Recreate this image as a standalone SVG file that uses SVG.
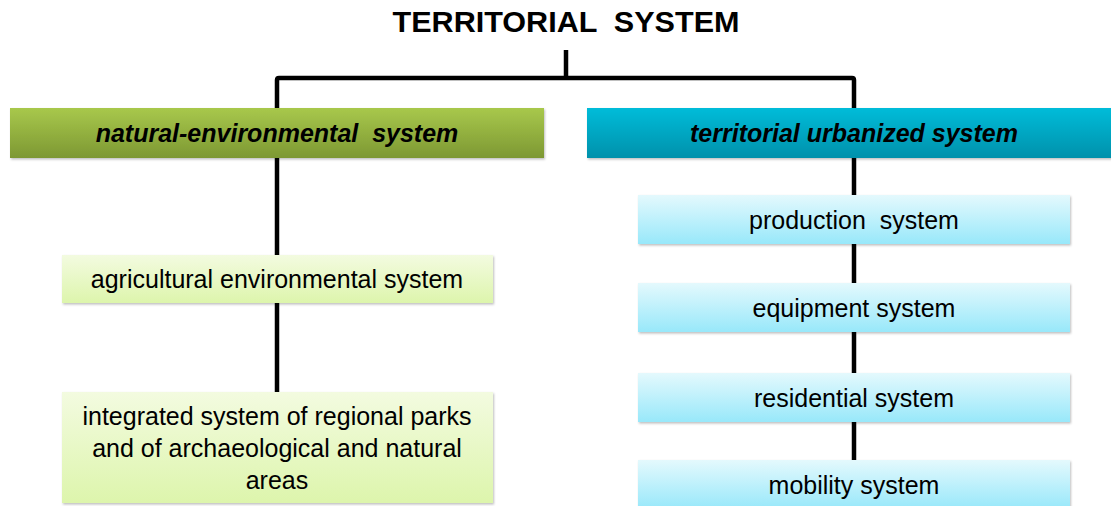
<svg xmlns="http://www.w3.org/2000/svg" width="1111" height="506" viewBox="0 0 1111 506">
<defs>
<linearGradient id="gHead" x1="0" y1="0" x2="0" y2="1"><stop offset="0" stop-color="#a8c84c"/><stop offset="1" stop-color="#7d9833"/></linearGradient>
<linearGradient id="bHead" x1="0" y1="0" x2="0" y2="1"><stop offset="0" stop-color="#00bcd9"/><stop offset="1" stop-color="#0091ab"/></linearGradient>
<linearGradient id="gLight" x1="0" y1="0" x2="0" y2="1"><stop offset="0" stop-color="#f3fbe0"/><stop offset="1" stop-color="#ddf5ac"/></linearGradient>
<linearGradient id="bLight" x1="0" y1="0" x2="0" y2="1"><stop offset="0" stop-color="#e4f9fd"/><stop offset="1" stop-color="#98e8fa"/></linearGradient>
<filter id="sh" x="-5%" y="-20%" width="110%" height="140%"><feDropShadow dx="1" dy="1.5" stdDeviation="1.2" flood-color="#000" flood-opacity="0.25"/></filter>
</defs>
<style>
text{font-family:"Liberation Sans",Arial,sans-serif;fill:#000;text-anchor:middle}
.title{font-size:29px;font-weight:bold}
.head{font-size:25px;font-weight:bold;font-style:italic}
.lbl{font-size:25px}
.conn{fill:none;stroke:#000;stroke-width:4.5;stroke-linejoin:round}
</style>
<g id="connectors">
<path class="conn" d="M566 50 V78"/>
<path class="conn" d="M277 108 V80 Q277 78 279 78 H852 Q854 78 854 80 V108"/>
<path class="conn" d="M277 158 V255"/>
<path class="conn" d="M277 303 V392"/>
<path class="conn" d="M854 158 V195"/>
<path class="conn" d="M854 244 V283"/>
<path class="conn" d="M854 332 V373"/>
<path class="conn" d="M854 422 V460"/>
</g>
<g id="title"><text class="title" x="566" y="32" xml:space="preserve" textLength="347" lengthAdjust="spacingAndGlyphs">TERRITORIAL  SYSTEM</text></g>
<g id="natural"><rect x="10" y="108" width="534" height="50" fill="url(#gHead)" filter="url(#sh)"/><text class="head" x="277" y="142" xml:space="preserve">natural-environmental  system</text></g>
<g id="urbanized"><rect x="587" y="108" width="530" height="50" fill="url(#bHead)" filter="url(#sh)"/><text class="head" x="854" y="142">territorial urbanized system</text></g>
<g id="agricultural"><rect x="62" y="255" width="431" height="48" fill="url(#gLight)" filter="url(#sh)"/><text class="lbl" x="277" y="288">agricultural environmental system</text></g>
<g id="integrated"><rect x="62" y="392" width="431" height="111" fill="url(#gLight)" filter="url(#sh)"/><text class="lbl" x="277" y="425">integrated system of regional parks</text><text class="lbl" x="277" y="457">and of archaeological and natural</text><text class="lbl" x="277" y="489">areas</text></g>
<g id="production"><rect x="638" y="195" width="432" height="49" fill="url(#bLight)" filter="url(#sh)"/><text class="lbl" x="854" y="229" xml:space="preserve">production  system</text></g>
<g id="equipment"><rect x="638" y="283" width="432" height="49" fill="url(#bLight)" filter="url(#sh)"/><text class="lbl" x="854" y="317">equipment system</text></g>
<g id="residential"><rect x="638" y="373" width="432" height="49" fill="url(#bLight)" filter="url(#sh)"/><text class="lbl" x="854" y="407">residential system</text></g>
<g id="mobility"><rect x="638" y="460" width="432" height="49" fill="url(#bLight)" filter="url(#sh)"/><text class="lbl" x="854" y="494">mobility system</text></g>
</svg>
